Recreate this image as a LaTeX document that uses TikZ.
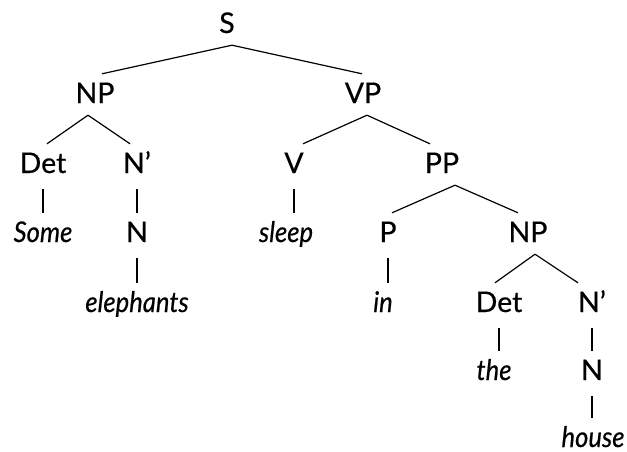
\documentclass[tikz,border=0pt]{standalone}
\usepackage{fontspec}
\setmainfont{Lato}[FakeBold=0.5,ItalicFeatures={FakeStretch=0.9,FakeBold=0.5}]
\usetikzlibrary{calc}
\begin{document}
\begin{tikzpicture}[x=1pt,y=-1pt,
  tn/.style={font=\fontsize{28.5}{34}\selectfont, inner sep=0pt, text height=20pt, text depth=0pt, anchor=base},
  lx/.style={tn, font=\fontsize{28.5}{34}\selectfont\itshape},
  edge/.style={line width=1.2pt, black}]
\useasboundingbox (0,0) rectangle (627,452);
\node[tn] (s) at (227,33) {S};
\node[tn] (np1) at (95,103) {NP};
\node[tn] (vp) at (363,103) {VP};
\node[tn] (det1) at (43,173) {Det};
\node[tn] (nb1) at (137,173) {N’};
\node[tn] (v) at (294,173) {V};
\node[tn] (pp) at (442,173) {PP};
\node[lx] (some) at (43,242) {Some};
\node[tn] (n1) at (137,242) {N};
\node[lx] (sleep) at (286,242) {sleep};
\node[tn] (p) at (388,242) {P};
\node[tn] (np2) at (528,242) {NP};
\node[lx] (eleph) at (137,312) {elephants};
\node[lx] (in) at (383,312) {in};
\node[tn] (det2) at (499,312) {Det};
\node[tn] (nb2) at (592,312) {N’};
\node[lx] (the) at (494,380) {the};
\node[tn] (n2) at (592,380) {N};
\node[lx] (house) at (593,447) {house};
% branching edges: parent / x offset / child / x offset
\foreach \a/\ao/\b/\bo in {s/5/np1/7, s/5/vp/-1, np1/-7/det1/4, np1/-7/nb1/-7, vp/4/v/9, vp/4/pp/-12, pp/13/p/4, pp/13/np2/-10, np2/7/det2/-4, np2/7/nb2/-14}
  \draw[edge] ($(\a.south)+(\ao pt,-12pt)$) -- ($(\b.north)+(\bo pt,9pt)$);
% unary edges (vertical)
\foreach \a/\b in {det1/some, nb1/n1, n1/eleph, v/sleep, p/in, det2/the, nb2/n2, n2/house}
  \draw[edge] ($(\a.south)+(0,-16pt)$) -- ($(\a.south |- \b.north)+(0,9pt)$);
\end{tikzpicture}
\end{document}
